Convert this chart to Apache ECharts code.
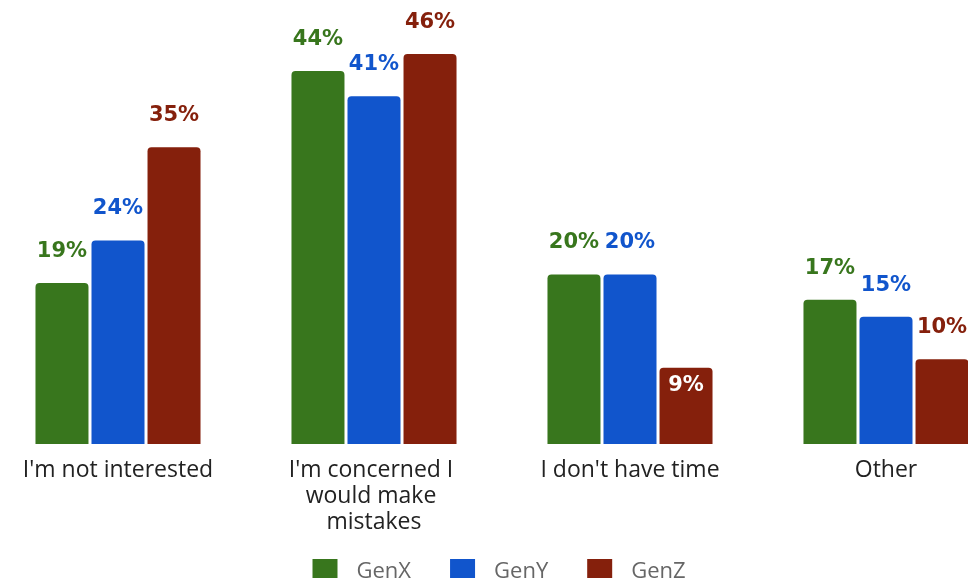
<!DOCTYPE html>
<html>
<head>
<meta charset="utf-8">
<script src="https://cdn.jsdelivr.net/npm/echarts@6/dist/echarts.min.js"></script>
<style>
  html, body { margin: 0; padding: 0; background: #ffffff; overflow: hidden; }
  #frame { width: 968px; height: 578px; overflow: hidden; position: relative; }
  /* the plot runs slightly past both edges of the frame */
  #chart { width: 1024px; height: 578px; position: absolute; left: -10.5px; top: 0; }
</style>
</head>
<body>
<div id="frame"><div id="chart"></div></div>
<script>
// Reasons for not doing it, by generation (percent of respondents)
const categories = [
  "I'm not interested",
  "I'm concerned I would make mistakes",
  "I don't have time",
  "Other"
];
const genX = [19, 44, 20, 17];
const genY = [24, 41, 20, 15];
const genZ = [35, 46, 9, 10];

const seriesNames = ['GenX', 'GenY', 'GenZ'];
const seriesColors = ['#38761d', '#1155cc', '#85200c'];
// [seriesIndex, categoryIndex] pairs whose value sits inside the bar
const insideLabels = [[2, 2]];

const valueFont = 'DejaVu Sans';
const axisFont = 'Open Sans';

function buildData(values, sIdx) {
  return values.map(function (v, cIdx) {
    const inside = insideLabels.some(function (p) { return p[0] === sIdx && p[1] === cIdx; });
    if (!inside) return v;
    return {
      value: v,
      label: { position: 'insideTop', distance: 7, color: '#ffffff' }
    };
  });
}

const chart = echarts.init(document.getElementById('chart'), null, { renderer: 'canvas' });

chart.setOption({
  animation: false,
  backgroundColor: '#ffffff',
  grid: { left: 0, right: 0, top: 20, bottom: 134, containLabel: false },
  legend: {
    left: 317.5,
    top: 554,
    itemWidth: 25,
    itemHeight: 25,
    itemGap: 39,
    icon: 'rect',
    data: seriesNames,
    textStyle: { color: '#666666', fontFamily: axisFont, fontSize: 22, padding: [0, 0, 0, 14] }
  },
  xAxis: {
    type: 'category',
    data: categories,
    axisLine: { show: false },
    axisTick: { show: false },
    axisLabel: {
      margin: 13,
      color: '#222222',
      fontFamily: axisFont,
      fontSize: 23,
      lineHeight: 26,
      width: 215,
      overflow: 'break',
      interval: 0
    }
  },
  yAxis: {
    type: 'value',
    min: 0,
    max: 50,
    show: false,
    splitLine: { show: false }
  },
  series: seriesNames.map(function (name, i) {
    const values = [genX, genY, genZ][i];
    return {
      name: name,
      type: 'bar',
      barWidth: 53,
      barGap: '5.7%',
      data: buildData(values, i),
      itemStyle: { color: seriesColors[i], borderRadius: [4, 4, 0, 0] },
      label: {
        show: true,
        position: 'top',
        distance: 21,
        formatter: '{c}%',
        color: seriesColors[i],
        fontFamily: valueFont,
        fontWeight: 'bold',
        fontSize: 21
      }
    };
  })
});
</script>
</body>
</html>
